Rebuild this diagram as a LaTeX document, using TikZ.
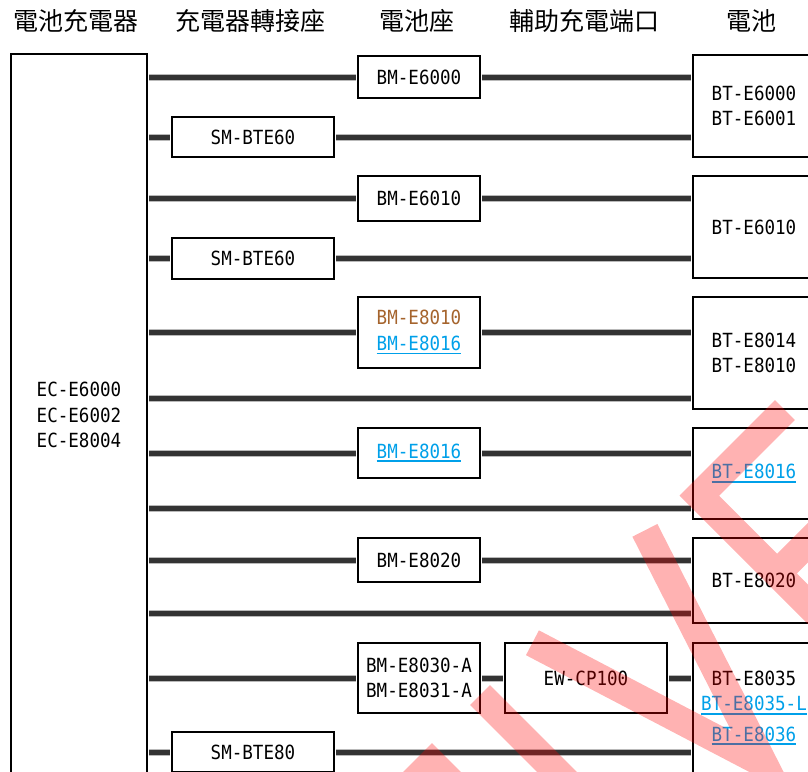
\documentclass[tikz,border=0pt]{standalone}
\usepackage{fontspec}
\newfontfamily\cjk{Noto Sans CJK TC}
\newfontfamily\boxfont[FakeStretch=0.9]{DejaVu Sans Mono}
\definecolor{linkblue}{RGB}{0,160,233}
\definecolor{brownlbl}{RGB}{165,100,45}
\definecolor{lineclr}{RGB}{51,51,51}
\newcommand{\lnk}[1]{{\color{linkblue}\setbox0\hbox{#1}\rlap{\rule[-4pt]{\wd0}{1.8pt}}\box0}}
\begin{document}
\begin{tikzpicture}[x=1pt,y=-1pt,
  box/.style={draw=black, line width=1.3pt, inner sep=0pt, align=center,
    font=\boxfont\fontsize{19.5}{25.5}\selectfont},
  bm/.style={box, minimum width=122pt},
  sm/.style={box, minimum width=162pt},
  bt/.style={box, minimum width=122pt},
  hdr/.style={font=\cjk\fontsize{25}{30}\selectfont, inner sep=0pt},
  conn/.style={draw=gray!55, line width=1pt, double=lineclr, double distance=5pt,
    shorten <=1.5pt, shorten >=1.5pt},
  wm/.style={draw=red, draw opacity=0.3, line width=28pt, line join=miter}]
\useasboundingbox (0,0) rectangle (808,771);

% headers
\node[hdr] (h1) at (76,21) {電池充電器};
\node[hdr] (h2) at (250,21) {充電器轉接座};
\node[hdr] (h3) at (417,21) {電池座};
\node[hdr] (h4) at (584,21) {輔助充電端口};
\node[hdr] (h5) at (751,21) {電池};

% charger
\node[box, minimum width=136pt, minimum height=722pt] (ch) at (79,415) {EC-E6000\\EC-E6002\\EC-E8004};

% column boxes
\node[bm, minimum height=42pt] (bm1) at (419,77) {BM-E6000};
\node[sm, minimum height=40pt] (sm1) at (253,137) {SM-BTE60};
\node[bt, minimum height=102pt] (bt1) at (754,106) {BT-E6000\\BT-E6001};

\node[bm, minimum height=45pt] (bm2) at (419,198.5) {BM-E6010};
\node[sm, minimum height=41pt] (sm2) at (253,258.5) {SM-BTE60};
\node[bt, minimum height=102pt] (bt2) at (754,227) {BT-E6010};

\node[bm, minimum height=71pt] (bm3) at (419,332.5) {\textcolor{brownlbl}{BM-E8010}\\\lnk{BM-E8016}};
\node[bt, minimum height=112pt] (bt3) at (754,353) {BT-E8014\\BT-E8010};

\node[bm, minimum height=50pt] (bm4) at (419,453) {\lnk{BM-E8016}};
\node[bt, minimum height=91pt] (bt4) at (754,473.5) {\lnk{BT-E8016}};

\node[bm, minimum height=44pt] (bm5) at (419,560) {BM-E8020};
\node[bt, minimum height=85pt] (bt5) at (754,580.5) {BT-E8020};

\node[bm, minimum height=70pt] (bm6) at (419,678) {BM-E8030-A\\BM-E8031-A};
\node[box, minimum width=162pt, minimum height=70pt] (ew) at (586,678) {EW-CP100};
\node[bt, minimum height=130pt] (bt6) at (754,708) {BT-E8035\\\lnk{BT-E8035-L}\\[5pt]\lnk{BT-E8036}};

\node[sm, minimum height=40pt] (sm3) at (253,752) {SM-BTE80};

% row coordinates for direct lines
\coordinate (r6) at (400,398);
\coordinate (r8) at (400,508);
\coordinate (r10) at (400,613);

% connectors
\draw[conn] (ch.east |- bm1.west) -- (bm1.west);
\draw[conn] (bm1.east) -- (bt1.west |- bm1.east);
\draw[conn] (ch.east |- sm1.west) -- (sm1.west);
\draw[conn] (sm1.east) -- (bt1.west |- sm1.east);

\draw[conn] (ch.east |- bm2.west) -- (bm2.west);
\draw[conn] (bm2.east) -- (bt2.west |- bm2.east);
\draw[conn] (ch.east |- sm2.west) -- (sm2.west);
\draw[conn] (sm2.east) -- (bt2.west |- sm2.east);

\draw[conn] (ch.east |- bm3.west) -- (bm3.west);
\draw[conn] (bm3.east) -- (bt3.west |- bm3.east);
\draw[conn] (ch.east |- r6) -- (bt3.west |- r6);

\draw[conn] (ch.east |- bm4.west) -- (bm4.west);
\draw[conn] (bm4.east) -- (bt4.west |- bm4.east);
\draw[conn] (ch.east |- r8) -- (bt4.west |- r8);

\draw[conn] (ch.east |- bm5.west) -- (bm5.west);
\draw[conn] (bm5.east) -- (bt5.west |- bm5.east);
\draw[conn] (ch.east |- r10) -- (bt5.west |- r10);

\draw[conn] (ch.east |- bm6.west) -- (bm6.west);
\draw[conn] (bm6.east) -- (ew.west);
\draw[conn] (ew.east) -- (bt6.west |- ew.east);
\draw[conn] (ch.east |- sm3.west) -- (sm3.west);
\draw[conn] (sm3.east) -- (bt6.west |- sm3.east);

% watermark
\begin{scope}
\clip (0,0) rectangle (808,771);
\begin{scope}[x={(0.7071pt,0.7071pt)}, y={(-0.7071pt,0.7071pt)}]
\draw[wm] (-400,-845) -- (-234,-845) -- (-234,-1150)
  (-152,-831) -- (-152,-1150)
  (-78,-831) -- (0,-1080) -- (81,-831)
  (265,-845) -- (144,-845) -- (144,-1150)
  (144,-955) -- (320,-955);
\end{scope}
\end{scope}
\end{tikzpicture}
\end{document}
